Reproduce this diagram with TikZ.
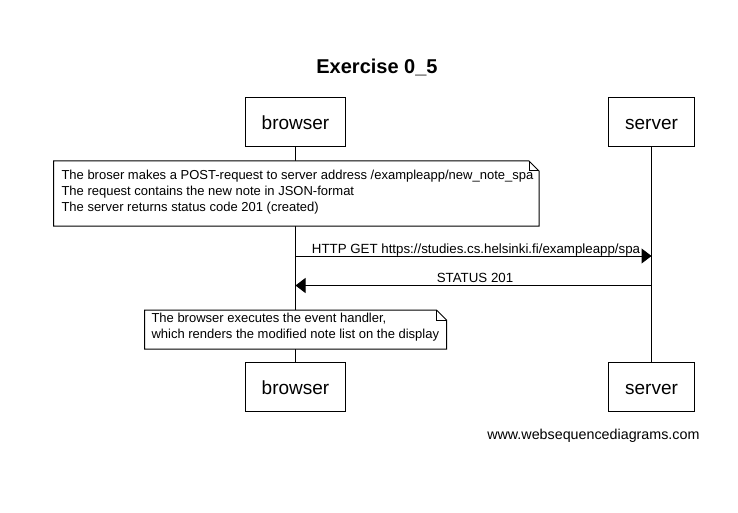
\documentclass[tikz,border=0pt]{standalone}
\usepackage{fontspec}
\setmainfont{Liberation Sans}
\usetikzlibrary{arrows.meta}
\begin{document}
\begin{tikzpicture}[x=1pt,y=-1pt,line width=1pt,
  actor/.style={draw,fill=white,minimum height=49pt,inner sep=0pt,text height=15pt,text depth=0pt,font=\fontsize{19}{22}\selectfont},
  notetext/.style={align=left,inner sep=0pt,anchor=base west,font=\fontsize{13}{15.7}\selectfont},
  msg/.style={-{Triangle[length=10pt,width=15pt]}},
  lbl/.style={font=\fontsize{13.3}{15}\selectfont,inner sep=0pt,anchor=base}]
\useasboundingbox[fill=white] (0,0) rectangle (738,513);
\node[font=\bfseries\fontsize{20}{22}\selectfont,anchor=base] (title) at (377,74) {Exercise 0\_5};
\node[actor,minimum width=100.5pt] (bt) at (295.5,122.5) {browser};
\node[actor,minimum width=86.5pt] (st) at (651.5,122.5) {server};
\node[actor,minimum width=100.5pt] (bb) at (295.5,387) {browser};
\node[actor,minimum width=86.5pt] (sb) at (651.5,387) {server};
\draw (bt.south) -- (bb.north);
\draw (st.south) -- (sb.north);
% note 1
\filldraw[fill=white] (53.5,161) -- (529,161) -- (539,171) -- (539,226) -- (53.5,226) -- cycle;
\draw (529,161) -- (529,171) -- (539,171);
\node[notetext] (note1) at (61,211) {The broser makes a POST-request to server address /exampleapp/new\_note\_spa\\The request contains the new note in JSON-format\\The server returns status code 201 (created)};
% messages
\coordinate (b1) at (295.5,256);
\coordinate (s1) at (651.5,256);
\coordinate (b2) at (295.5,285.5);
\coordinate (s2) at (651.5,285.5);
\draw[msg] (b1) -- (s1);
\node[lbl] (m1) at (476,253) {HTTP GET https://studies.cs.helsinki.fi/exampleapp/spa};
\draw[msg] (s2) -- (b2);
\node[lbl] (m2) at (475,282.5) {STATUS 201};
% note 2
\filldraw[fill=white] (144.5,310) -- (436.5,310) -- (446.5,320) -- (446.5,349) -- (144.5,349) -- cycle;
\draw (436.5,310) -- (436.5,320) -- (446.5,320);
\node[notetext] (note2) at (151,338) {The browser executes the event handler,\\which renders the modified note list on the display};
\node[font=\fontsize{14.3}{16}\selectfont,inner sep=0pt,anchor=base east] (wsd) at (700,439) {www.websequencediagrams.com};
\end{tikzpicture}
\end{document}
